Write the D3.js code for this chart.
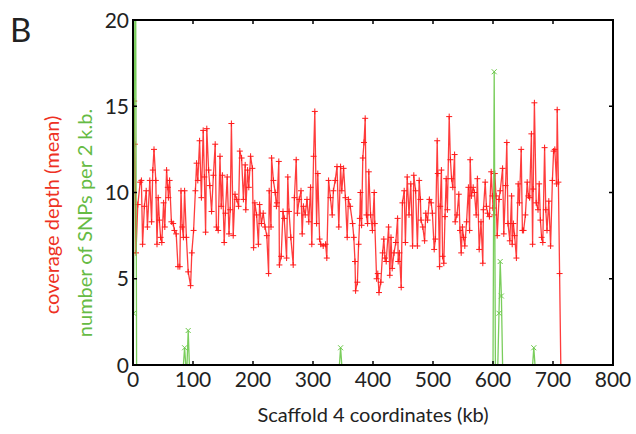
<!DOCTYPE html>
<html>
<head>
<meta charset="utf-8">
<script src="https://cdn.jsdelivr.net/npm/d3@7"></script>
<style>
  body { margin: 0; background: #fff; }
  text { font-family: Lato, "Open Sans", sans-serif; }
</style>
</head>
<body>
<div id="chart"></div>
<script>
// coverage depth (mean)
const depthKb = [0,2,3,5,8,12,14,16,19,22,24,28,31,33,35,38,40,42,44,46,48,51,53,56,58,59,61,64,67,69,72,75,78,80,82,84,86,89,92,96,98,101,104,106,108,111,114,117,119,
  121,123,126,128,131,134,137,139,142,145,147,149,152,154,157,160,162,164,167,170,173,176,178,181,184,187,188,191,193,196,199,201,203,206,209,211,214,217,220,223,226,227,230,231,234,237,239,
  240,243,244,247,250,252,256,258,260,263,267,269,272,274,277,280,282,284,287,290,293,296,298,301,303,306,308,311,313,317,321,323,326,329,332,334,337,340,343,346,348,351,354,357,359,
  362,366,368,370,371,374,376,378,379,381,383,385,387,389,391,393,396,399,402,403,406,408,410,413,416,418,420,422,426,428,430,432,435,438,441,442,444,447,449,452,454,457,460,463,466,468,471,474,477,479,
  480,483,486,488,491,494,497,499,502,504,507,508,511,512,514,516,518,520,522,524,527,529,531,533,536,537,540,543,545,547,549,551,553,556,559,561,562,564,567,569,572,574,577,580,583,584,587,589,591,594,597,599,
  600,602,603,605,607,610,612,616,618,621,623,625,628,631,632,634,636,639,642,644,647,649,651,654,657,659,661,664,666,667,669,672,675,677,679,681,683,686,688,690,693,696,699,701,703,706,707,709,711,713];
const depth = [6.5,15.3,12.8,6.5,9.3,10.6,10.7,7.0,9.2,10.1,8.0,10.7,8.3,11.3,12.5,10.7,7.0,9.7,8.4,7.4,7.1,9.4,8.0,11.3,10.3,9.7,10.7,8.3,8.2,7.8,7.6,5.7,5.7,10.1,8.0,7.4,10.1,7.4,5.4,4.6,6.5,7.8,10.1,11.7,10.7,13.0,9.7,13.6,10.9,
  7.7,13.7,11.3,10.4,8.9,11.0,12.8,8.0,7.8,12.1,9.2,11.0,7.1,8.8,10.9,7.6,9.0,14.0,7.5,9.9,9.6,9.2,12.4,12.0,9.6,11.6,9.0,11.3,10.3,12.1,11.4,6.8,9.4,8.7,7.0,9.3,8.2,8.8,8.0,7.5,5.3,10.1,8.0,12.0,10.7,10.0,9.2,
  9.4,11.8,5.8,6.3,8.9,8.5,6.2,10.9,8.9,7.4,5.8,9.7,11.9,8.8,9.6,10.1,7.6,9.2,8.7,9.6,8.3,10.3,7.0,12.1,14.7,8.2,11.1,7.3,7.0,6.9,7.0,6.2,10.7,9.7,8.7,10.1,10.7,11.5,8.0,11.5,10.1,11.4,9.7,7.4,9.6,
  9.2,8.2,7.4,6.0,4.3,4.8,7.0,8.5,10.0,8.1,12.0,12.9,14.3,8.7,8.2,11.2,8.7,7.8,10.0,8.2,5.0,5.3,4.2,4.8,6.5,7.3,6.2,6.0,8.0,5.2,7.4,5.6,6.5,7.1,8.5,6.0,6.5,4.5,9.4,10.1,7.1,10.9,8.7,10.5,6.9,11.0,10.1,6.9,10.7,9.6,
  8.4,8.0,7.2,8.8,8.4,9.6,9.4,8.8,6.7,7.3,13.0,11.1,5.7,9.2,11.3,6.3,5.9,8.6,10.8,9.0,14.4,11.9,10.8,10.3,12.2,8.3,8.7,9.9,7.8,6.5,8.0,7.4,6.9,8.3,10.3,7.8,11.9,9.8,10.3,10.0,8.7,10.8,6.7,8.3,5.9,9.0,10.6,9.2,8.8,8.6,11.2,9.8,
  9.1,8.7,11.1,9.8,7.5,9.6,10.1,11.4,7.6,10.4,12.9,8.2,7.2,9.8,7.0,8.2,7.5,6.2,10.5,9.4,12.5,7.8,7.8,8.7,10.6,9.8,9.7,13.4,7.0,10.2,15.2,9.4,9.0,10.5,8.4,7.4,7.1,12.6,9.0,7.8,9.5,6.9,10.7,12.4,12.5,10.5,14.8,10.6,5.3,0];

// number of SNPs per 2 kb
const snpKb = [1,4,6,84,86,88,90,92,94,344,346,348,600,602,604,608,610,612,614,616,666,668,670,712];
const snps  = [3,28,0,0,1,0,0,2,0,0,1,0,0,17,0,0,3,6,4,0,0,1,0,0];

const xTicks = [0,100,200,300,400,500,600,700,800];
const yTicks = [0,5,10,15,20];

const width = 636, height = 434;
const plotL = 133, plotR = 613, plotT = 20, plotB = 365;
const red = "#ee3124", green = "#66bb44";

const svg = d3.select("#chart").append("svg")
    .attr("width", width)
    .attr("height", height);

const x = d3.scaleLinear().domain([0, 800]).range([plotL, plotR]);
const y = d3.scaleLinear().domain([0, 20]).range([plotB, plotT]);

svg.append("clipPath").attr("id", "plot")
  .append("rect")
    .attr("x", plotL).attr("y", plotT)
    .attr("width", plotR - plotL).attr("height", plotB - plotT);

const g = svg.append("g").attr("clip-path", "url(#plot)");

const depthData = depthKb.map((k, i) => [k, depth[i]]);
const snpData = snpKb.map((k, i) => [k, snps[i]]);
const line = d3.line().x(d => x(d[0])).y(d => y(d[1]));

// red depth line with + markers
g.append("path")
    .datum(depthData)
    .attr("d", line)
    .attr("fill", "none")
    .attr("stroke", "#ff1a1a")
    .attr("stroke-opacity", 0.85)
    .attr("stroke-width", 1.3);

g.selectAll(".plus")
  .data(depthData.filter(d => d[1] > 0))
  .enter().append("path")
    .attr("class", "plus")
    .attr("d", d => `M${x(d[0]) - 3},${y(d[1])}h6M${x(d[0])},${y(d[1]) - 3}v6`)
    .attr("stroke", "#ff1a1a")
    .attr("stroke-width", 1);

// green SNP line with x markers
g.append("path")
    .datum(snpData)
    .attr("d", line)
    .attr("fill", "none")
    .attr("stroke", "#6cc84a")
    .attr("stroke-opacity", 0.9)
    .attr("stroke-width", 1.3);

g.selectAll(".cross")
  .data(snpData.filter(d => d[1] > 0))
  .enter().append("path")
    .attr("class", "cross")
    .attr("d", d => {
      const cx = x(d[0]), cy = y(d[1]);
      return `M${cx - 2.5},${cy - 2.5}l5,5M${cx - 2.5},${cy + 2.5}l5,-5`;
    })
    .attr("stroke", "#6cc84a")
    .attr("stroke-width", 1);

// frame and inward ticks
svg.append("rect")
    .attr("x", plotL).attr("y", plotT)
    .attr("width", plotR - plotL).attr("height", plotB - plotT)
    .attr("fill", "none")
    .attr("stroke", "#000")
    .attr("stroke-width", 2);

const tick = svg.append("g").attr("stroke", "#000").attr("stroke-width", 1.5);
xTicks.forEach(t => {
  tick.append("line").attr("x1", x(t)).attr("x2", x(t)).attr("y1", plotB).attr("y2", plotB - 4);
  tick.append("line").attr("x1", x(t)).attr("x2", x(t)).attr("y1", plotT).attr("y2", plotT + 4);
});
yTicks.forEach(t => {
  tick.append("line").attr("x1", plotL).attr("x2", plotL + 4).attr("y1", y(t)).attr("y2", y(t));
  tick.append("line").attr("x1", plotR).attr("x2", plotR - 4).attr("y1", y(t)).attr("y2", y(t));
});

// tick labels
svg.selectAll(".xl")
  .data(xTicks)
  .enter().append("text")
    .attr("x", d => x(d))
    .attr("y", 387)
    .attr("text-anchor", "middle")
    .attr("font-size", 21)
    .attr("fill", "#222")
    .text(d => d);

svg.selectAll(".yl")
  .data(yTicks)
  .enter().append("text")
    .attr("x", 129)
    .attr("y", d => y(d))
    .attr("dy", "0.36em")
    .attr("text-anchor", "end")
    .attr("font-size", 21)
    .attr("fill", "#222")
    .text(d => d);

// titles
svg.append("text")
    .attr("x", 373).attr("y", 422)
    .attr("text-anchor", "middle")
    .attr("font-size", 20)
    .attr("fill", "#222")
    .text("Scaffold 4 coordinates (kb)");

svg.append("text")
    .attr("transform", "translate(59,215) rotate(-90)")
    .attr("text-anchor", "middle")
    .attr("font-size", 20)
    .attr("fill", red)
    .text("coverage depth (mean)");

svg.append("text")
    .attr("transform", "translate(92,223) rotate(-90)")
    .attr("text-anchor", "middle")
    .attr("font-size", 20)
    .attr("fill", green)
    .text("number of SNPs per 2 k.b.");

svg.append("text")
    .attr("x", 10).attr("y", 42)
    .attr("font-size", 33)
    .attr("fill", "#222")
    .text("B");
</script>
</body>
</html>
